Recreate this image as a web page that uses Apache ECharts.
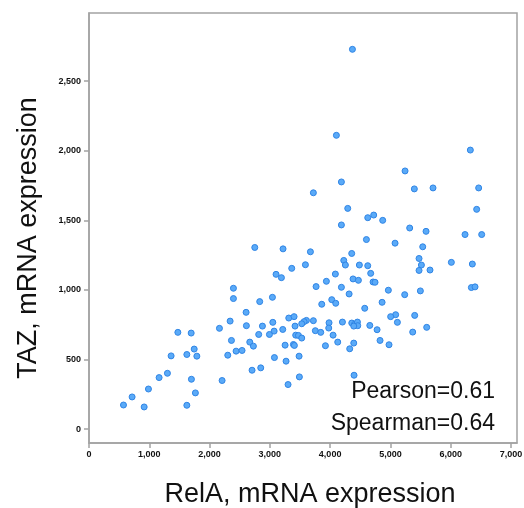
<!DOCTYPE html>
<html>
<head>
<meta charset="utf-8">
<script src="https://cdn.jsdelivr.net/npm/echarts@6/dist/echarts.min.js"></script>
<style>
  html, body { margin: 0; padding: 0; background: #fff; }
  #chart { width: 524px; height: 508px; }
</style>
</head>
<body>
<div id="chart"></div>
<script>
// RelA (x) and TAZ (y) mRNA expression
const relA = [
  4370, 4104, 6326, 5243, 4187, 5397, 5707, 6464, 3722, 4292, 6431, 4723, 4624, 4872, 4187,
  5320, 5591, 6238, 6514, 4602, 5077, 2750, 3219, 5536, 3673, 4358, 5475, 4226, 6011, 6359,
  4253, 5514, 3590, 4485, 4624, 3363, 5475, 5657, 3103, 4673, 4087, 3192, 4380, 4469, 3938,
  4712, 4745,
  2396, 3767, 4187, 4966, 5497, 5237, 6343, 6404,
  2396, 3043, 2832, 4315, 4027, 4093, 3861, 4862, 4574, 2606, 5403, 5087, 5004,
  3049, 2341, 3314, 3402, 3607, 3568, 3529, 3722, 3982, 4204, 4359, 4403, 4453, 4458, 4392,
  5116, 4658, 2611, 2877, 3418, 2164, 3214, 3977, 4779, 5602, 1474, 1695, 3755, 3844, 5370,
  3071, 2993, 2815, 3429, 3474, 4049, 3529, 2363, 2667, 2727, 4126, 4828, 3391, 3407, 3253,
  3922, 4392, 4325, 4977, 2440, 2539, 1745, 1623, 1362, 1789, 2302, 3076, 3485, 3269, 2705,
  2849, 1163, 1301, 1699, 2208, 3490, 3302, 4397, 986, 1765, 715, 572, 915, 1623
]
const taz = [
  2729, 2111, 2005, 1855, 1776, 1726, 1733, 1733, 1698, 1586, 1579, 1538, 1519, 1500, 1467,
  1445, 1421, 1398, 1398, 1362, 1336, 1305, 1295, 1310, 1274, 1262, 1226, 1212, 1198, 1186,
  1179, 1179, 1181, 1179, 1174, 1155, 1140, 1143, 1112, 1119, 1114, 1088, 1079, 1069, 1062,
  1057, 1055,
  1012, 1024, 1019, 998, 993, 966, 1017, 1022,
  938, 947, 916, 971, 930, 904, 897, 911, 868, 839, 817, 822, 808,
  767, 776, 798, 808, 781, 772, 757, 779, 764, 769, 762, 752, 769, 743, 740,
  767, 745, 743, 740, 740, 724, 716, 726, 714, 731, 695, 690, 707, 695, 697,
  704, 680, 680, 675, 673, 675, 654, 637, 625, 596, 625, 637, 608, 601, 603,
  599, 618, 577, 606, 560, 565, 575, 536, 526, 524, 531, 514, 524, 488, 423,
  440, 370, 401, 358, 349, 375, 320, 387, 288, 260, 231, 173, 159, 171
]
const xTicks = [0, 1000, 2000, 3000, 4000, 5000, 6000, 7000]
const yTicks = [0, 500, 1000, 1500, 2000, 2500]
const statLines = ['Pearson=0.61', 'Spearman=0.64']

const points = relA.map((x, i) => [x, taz[i]])
const fmt = v => String(v).replace(/\B(?=(\d{3})+(?!\d))/g, ',')

const tickLabel = {
  fontFamily: 'Liberation Sans, Arial, sans-serif',
  fontSize: 9,
  fontWeight: 'bold',
  color: '#111',
  formatter: fmt
}
const titleFont = 'Liberation Sans, Arial, sans-serif'

const chart = echarts.init(document.getElementById('chart'))
chart.setOption({
  animation: false,
  grid: {
    left: 89, right: 7, top: 13, bottom: 65,
    outerBoundsMode: 'none',
    show: true, borderColor: '#a3a3a3', borderWidth: 1.5
  },
  xAxis: {
    type: 'value', min: 0, max: 7100,
    name: 'RelA, mRNA expression', nameLocation: 'middle', nameGap: 38,
    nameTextStyle: { fontFamily: titleFont, fontSize: 27, color: '#111', padding: [0, 0, 0, 14] },
    splitLine: { show: false },
    axisLine: { show: true, onZero: false, lineStyle: { color: '#a3a3a3', width: 1.5 } },
    axisTick: { show: true, length: 5, customValues: xTicks, lineStyle: { color: '#a3a3a3', width: 1.5 } },
    axisLabel: Object.assign({ customValues: xTicks, margin: 7 }, tickLabel)
  },
  yAxis: {
    type: 'value', min: -100, max: 2990,
    name: 'TAZ, mRNA expression', nameLocation: 'middle', nameGap: 47,
    nameTextStyle: { fontFamily: titleFont, fontSize: 27, color: '#111', padding: [0, 20, 0, 0] },
    splitLine: { show: false },
    axisLine: { show: true, onZero: false, lineStyle: { color: '#a3a3a3', width: 1.5 } },
    axisTick: { show: true, length: 5, customValues: yTicks, lineStyle: { color: '#a3a3a3', width: 1.5 } },
    axisLabel: Object.assign({ customValues: yTicks, margin: 8 }, tickLabel)
  },
  graphic: statLines.map((t, i) => ({
    type: 'text', right: 29, top: 380 + i * 32,
    style: { text: t, font: '23px "Liberation Sans", Arial, sans-serif', fill: '#111', textAlign: 'right' }
  })),
  series: [{
    type: 'scatter',
    data: points,
    symbolSize: 6,
    itemStyle: { color: '#5aaaf8', borderColor: '#2f84e4', borderWidth: 1, opacity: 1 }
  }]
})
</script>
</body>
</html>
